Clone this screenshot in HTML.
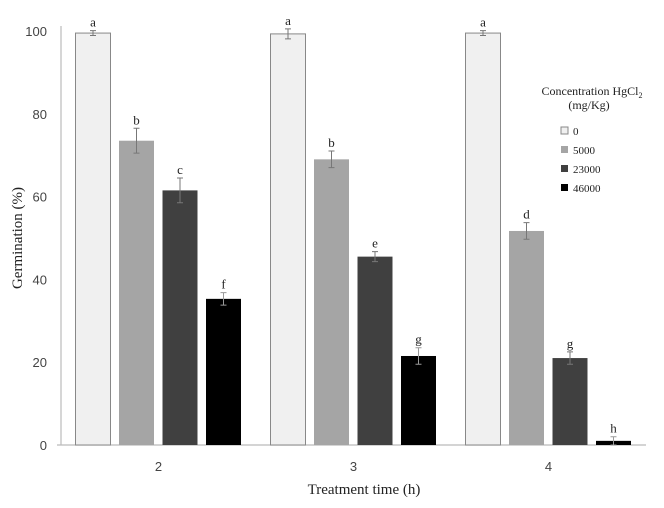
<!DOCTYPE html>
<html><head><meta charset="utf-8"><style>
body{margin:0;background:#fff;}
svg text{font-family:"Liberation Serif",serif;}
.tick{font-family:"Liberation Sans",sans-serif;font-size:13px;fill:#444;}
</style></head><body>
<svg id="chart" width="664" height="503" xmlns="http://www.w3.org/2000/svg"></svg>
<script>
const categories=["2","3","4"];
const seriesNames=["0","5000","23000","46000"];
const colors=["#f0f0f0","#a5a5a5","#404040","#000000"];
const values0=[99.5,99.3,99.5];
const values5000=[73.5,69,51.7];
const values23000=[61.5,45.5,21];
const values46000=[35.3,21.5,1];
const err0=[0.6,1.2,0.6];
const err5000=[3,2,2];
const err23000=[3,1.2,1.5];
const err46000=[1.5,2,1];
const letters0=["a","a","a"];
const letters5000=["b","b","d"];
const letters23000=["c","e","g"];
const letters46000=["f","g","h"];
const yTicks=[0,20,40,60,80,100];
const series=[values0,values5000,values23000,values46000];
const errs=[err0,err5000,err23000,err46000];
const lets=[letters0,letters5000,letters23000,letters46000];
const svg=document.getElementById('chart');
const NS="http://www.w3.org/2000/svg";
const X0=61,X1=646,Y0=445,Y100=31;
const y=v=>Y0-(Y0-Y100)*v/100;
const band=(X1-X0)/categories.length;
const bx=(c,s)=>X0+band*c+band/2-83+s*43.5;
function mk(t,a,txt){const e=document.createElementNS(NS,t);for(const k in a)e.setAttribute(k,a[k]);if(txt!==undefined)e.textContent=txt;svg.appendChild(e);return e;}
let e;
e=mk('line',{x1:X0,y1:26,x2:X0,y2:Y0,stroke:'#bbb','stroke-width':1.2});


e=mk('line',{x1:X0-4,y1:Y0,x2:X1,y2:Y0,stroke:'#bbb','stroke-width':1.2});


yTicks.forEach(t=>{e=mk('text',{x:X0-14,y:y(t)+5,'text-anchor':'end',class:'tick'},t);

});
categories.forEach((c,i)=>{e=mk('text',{x:X0+band*i+band/2,y:471,'text-anchor':'middle',class:'tick','font-size':'14'},c);

});
series.forEach((vals,s)=>{vals.forEach((v,c)=>{
const x=bx(c,s),w=35;
e=mk('rect',{x:x,y:y(v),width:w,height:Y0-y(v),fill:colors[s],stroke:s==0?'#888':'none','stroke-width':1});


const cx=x+w/2,er=errs[s][c],top=y(v+er),bot=y(v-er);
const ec=s==3?'#999':'#777';
e=mk('path',{d:`M${cx},${top}V${bot}M${cx-3},${top}H${cx+3}M${cx-3},${bot}H${cx+3}`,stroke:ec,'stroke-width':1,fill:'none'});


e=mk('text',{x:cx,y:top-4,'text-anchor':'middle','font-size':'13',fill:'#222'},lets[s][c]);


});});
e=mk('text',{x:22,y:238,'text-anchor':'middle','font-size':'15',fill:'#222',transform:'rotate(-90 22 238)'},'Germination (%)');


e=mk('text',{x:364,y:494,'text-anchor':'middle','font-size':'15',fill:'#222'},'Treatment time (h)');


e=mk('text',{x:592,y:95,'text-anchor':'middle','font-size':'12',fill:'#222'},'Concentration HgCl');


const sub=document.createElementNS(NS,'tspan');
sub.setAttribute('font-size','8');
sub.setAttribute('dy','3');
sub.textContent='2';
e.appendChild(sub);
e=mk('text',{x:589,y:109,'text-anchor':'middle','font-size':'12',fill:'#222'},'(mg/Kg)');


seriesNames.forEach((n,i)=>{const ly=131+i*19;
e=mk('rect',{x:561,y:ly-4,width:7,height:7,fill:colors[i],stroke:i==0?'#888':'none'});


e=mk('text',{x:573,y:ly+4,'font-size':'11',fill:'#222'},n);

});
</script>
</body></html>
